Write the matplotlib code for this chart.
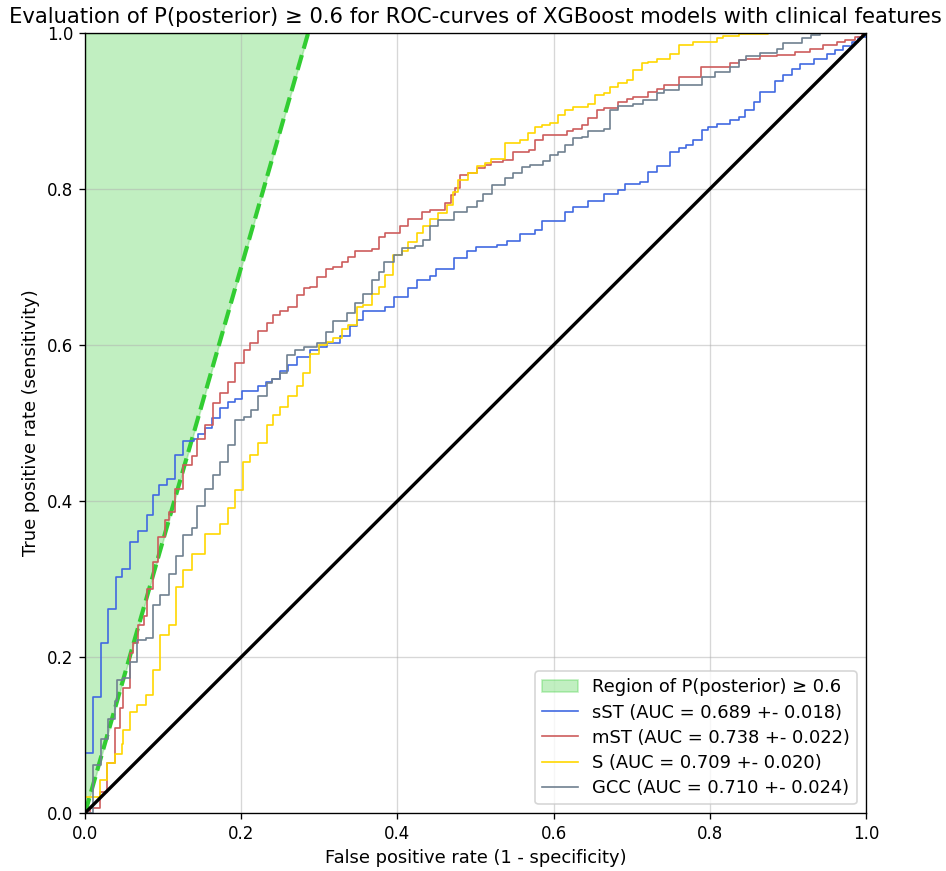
import numpy as np
import matplotlib.pyplot as plt

# ROC vertices (fpr, tpr), plotted as steps
sst_fpr = [0, 0, 0.0098, 0.020, 0.030, 0.039, 0.047, 0.058, 0.068, 0.079, 0.0875, 0.095, 0.105, 0.115, 0.125,
           0.139, 0.145, 0.153, 0.162, 0.173, 0.1835, 0.192, 0.201, 0.222, 0.232, 0.239, 0.250, 0.260, 0.271,
           0.288, 0.299, 0.310, 0.327, 0.339, 0.348, 0.356, 0.384, 0.395, 0.414, 0.425, 0.442, 0.450, 0.472,
           0.489, 0.500, 0.527, 0.540, 0.557, 0.576, 0.585, 0.615, 0.625, 0.644, 0.664, 0.683, 0.691, 0.711,
           0.721, 0.732, 0.749, 0.760, 0.770, 0.779, 0.790, 0.798, 0.809, 0.826, 0.837, 0.845, 0.856, 0.864,
           0.884, 0.894, 0.905, 0.916, 0.933, 0.950, 0.960, 0.971, 0.982, 0.990, 1.0]
sst_tpr = [0, 0.077, 0.149, 0.218, 0.262, 0.303, 0.313, 0.347, 0.362, 0.382, 0.408, 0.421, 0.428, 0.459, 0.477,
           0.479, 0.486, 0.493, 0.506, 0.519, 0.527, 0.531, 0.541, 0.547, 0.552, 0.556, 0.567, 0.575, 0.584,
           0.594, 0.598, 0.602, 0.612, 0.624, 0.632, 0.643, 0.649, 0.662, 0.673, 0.683, 0.688, 0.697, 0.711,
           0.721, 0.726, 0.728, 0.733, 0.742, 0.748, 0.759, 0.771, 0.777, 0.784, 0.794, 0.799, 0.806, 0.809,
           0.822, 0.830, 0.847, 0.852, 0.856, 0.863, 0.876, 0.879, 0.883, 0.889, 0.892, 0.901, 0.912, 0.924,
           0.939, 0.946, 0.954, 0.960, 0.967, 0.973, 0.978, 0.983, 0.989, 0.995, 1.0]

mst_fpr = [0, 0.006, 0.019, 0.0286, 0.038, 0.045, 0.049, 0.057, 0.062, 0.068, 0.075, 0.079, 0.087, 0.094, 0.102,
           0.107, 0.115, 0.126, 0.137, 0.143, 0.154, 0.164, 0.173, 0.1835, 0.192, 0.203, 0.211, 0.222, 0.233,
           0.241, 0.250, 0.260, 0.271, 0.280, 0.288, 0.297, 0.309, 0.318, 0.329, 0.337, 0.346, 0.367, 0.377,
           0.384, 0.403, 0.414, 0.431, 0.442, 0.461, 0.469, 0.474, 0.480, 0.491, 0.502, 0.512, 0.520, 0.535,
           0.548, 0.568, 0.576, 0.587, 0.617, 0.625, 0.636, 0.644, 0.655, 0.664, 0.683, 0.694, 0.702, 0.721,
           0.732, 0.741, 0.760, 0.789, 0.826, 0.837, 0.847, 0.864, 0.886, 0.909, 0.928, 0.945, 0.963, 0.973,
           0.986, 0.995, 1.0]
mst_tpr = [0, 0.006, 0.027, 0.064, 0.109, 0.134, 0.160, 0.205, 0.218, 0.241, 0.252, 0.287, 0.322, 0.354, 0.376,
           0.386, 0.416, 0.446, 0.458, 0.479, 0.497, 0.526, 0.539, 0.553, 0.577, 0.593, 0.602, 0.618, 0.628,
           0.638, 0.644, 0.649, 0.664, 0.673, 0.675, 0.687, 0.697, 0.700, 0.706, 0.713, 0.721, 0.723, 0.739,
           0.744, 0.752, 0.762, 0.770, 0.773, 0.782, 0.792, 0.801, 0.818, 0.821, 0.827, 0.831, 0.835, 0.837,
           0.847, 0.850, 0.863, 0.869, 0.874, 0.877, 0.882, 0.891, 0.901, 0.904, 0.912, 0.915, 0.918, 0.924,
           0.928, 0.933, 0.944, 0.957, 0.961, 0.965, 0.967, 0.970, 0.972, 0.976, 0.980, 0.985, 0.988, 0.991,
           0.995, 1.0, 1.0]

s_fpr = [0, 0, 0.019, 0.028, 0.038, 0.047, 0.049, 0.058, 0.067, 0.078, 0.0875, 0.096, 0.107, 0.117, 0.126,
         0.137, 0.154, 0.173, 0.1835, 0.192, 0.2027, 0.211, 0.222, 0.2326, 0.241, 0.250, 0.260, 0.271, 0.2795,
         0.288, 0.299, 0.3095, 0.318, 0.329, 0.337, 0.348, 0.356, 0.367, 0.377, 0.384, 0.394, 0.4055, 0.414,
         0.4245, 0.433, 0.442, 0.4524, 0.463, 0.4716, 0.478, 0.491, 0.5015, 0.512, 0.520, 0.538, 0.557, 0.5675,
         0.576, 0.585, 0.595, 0.606, 0.615, 0.625, 0.644, 0.653, 0.664, 0.672, 0.683, 0.694, 0.702, 0.713,
         0.721, 0.732, 0.749, 0.760, 0.779, 0.809, 0.817, 0.837, 0.875, 1.0]
s_tpr = [0, 0.021, 0.042, 0.064, 0.076, 0.089, 0.106, 0.130, 0.139, 0.151, 0.183, 0.228, 0.241, 0.290, 0.311,
         0.332, 0.358, 0.371, 0.391, 0.414, 0.450, 0.459, 0.475, 0.497, 0.510, 0.521, 0.534, 0.547, 0.5645,
         0.589, 0.600, 0.604, 0.6085, 0.621, 0.626, 0.649, 0.651, 0.665, 0.675, 0.690, 0.716, 0.721, 0.7325,
         0.743, 0.752, 0.762, 0.769, 0.780, 0.7965, 0.812, 0.8205, 0.829, 0.833, 0.839, 0.859, 0.863, 0.872,
         0.880, 0.882, 0.884, 0.895, 0.901, 0.9055, 0.909, 0.9205, 0.923, 0.931, 0.9355, 0.940, 0.9526, 0.961,
         0.963, 0.967, 0.9725, 0.985, 0.988, 0.993, 0.996, 0.999, 1.0, 1.0]

gcc_fpr = [0, 0.0098, 0.020, 0.030, 0.038, 0.0405, 0.049, 0.058, 0.067, 0.078, 0.0875, 0.096, 0.107, 0.1165,
           0.126, 0.137, 0.143, 0.154, 0.164, 0.173, 0.1835, 0.192, 0.203, 0.212, 0.222, 0.233, 0.240, 0.250,
           0.259, 0.269, 0.280, 0.297, 0.309, 0.318, 0.335, 0.346, 0.356, 0.367, 0.377, 0.383, 0.395, 0.4055,
           0.4225, 0.433, 0.442, 0.452, 0.472, 0.489, 0.5015, 0.510, 0.521, 0.538, 0.548, 0.559, 0.570, 0.587,
           0.595, 0.606, 0.615, 0.625, 0.636, 0.644, 0.664, 0.672, 0.683, 0.702, 0.715, 0.732, 0.741, 0.760,
           0.790, 0.807, 0.826, 0.837, 0.847, 0.864, 0.886, 0.894, 0.918, 0.930, 0.941, 1.0]
gcc_tpr = [0, 0.0615, 0.0945, 0.120, 0.143, 0.1705, 0.173, 0.194, 0.222, 0.224, 0.267, 0.280, 0.307, 0.329,
           0.356, 0.365, 0.393, 0.416, 0.433, 0.450, 0.472, 0.504, 0.508, 0.517, 0.534, 0.551, 0.557, 0.5645,
           0.587, 0.593, 0.598, 0.602, 0.617, 0.631, 0.641, 0.654, 0.666, 0.683, 0.693, 0.707, 0.716, 0.724,
           0.7275, 0.735, 0.752, 0.760, 0.770, 0.777, 0.784, 0.794, 0.805, 0.814, 0.821, 0.828, 0.831, 0.836,
           0.844, 0.848, 0.856, 0.865, 0.867, 0.875, 0.877, 0.901, 0.906, 0.909, 0.914, 0.923, 0.927, 0.933,
           0.944, 0.950, 0.956, 0.965, 0.970, 0.975, 0.980, 0.987, 0.993, 0.997, 1.0, 1.0]

labels = ['sST (AUC = 0.689 +- 0.018)', 'mST (AUC = 0.738 +- 0.022)',
          'S (AUC = 0.709 +- 0.020)', 'GCC (AUC = 0.710 +- 0.024)']
colors = ['royalblue', 'indianred', 'gold', 'slategray']

# posterior threshold line: tpr = slope * fpr
slope = 3.5
x_top = 1 / slope

fig = plt.figure(figsize=(946 / 120, 871 / 120), dpi=120)
ax = fig.add_axes([0.0899, 0.0666, 0.8255, 0.8955])

ax.fill_betweenx([0, 1], 0, [0, x_top], color='limegreen', alpha=0.3,
                 label='Region of P(posterior) \u2265 0.6')
ax.plot([0, x_top], [0, 1], color='limegreen', lw=2.5, ls='--')

curves = [(sst_fpr, sst_tpr), (mst_fpr, mst_tpr), (s_fpr, s_tpr), (gcc_fpr, gcc_tpr)]
for (fpr, tpr), lab, col in zip(curves, labels, colors):
    ax.plot(fpr, tpr, drawstyle='steps-post', color=col, lw=1.0, label=lab)

ax.plot([0, 1], [0, 1], color='black', lw=2)

ax.set_xlim(0, 1)
ax.set_ylim(0, 1)
ax.grid(True, alpha=0.5)
ax.set_xlabel('False positive rate (1 - specificity)', fontsize=10.7)
ax.set_ylabel('True positive rate (sensitivity)', fontsize=10.7)
ax.set_title('Evaluation of P(posterior) \u2265 0.6 for ROC-curves of XGBoost models with clinical features',
             fontsize=12.7)
ax.legend(loc='lower right', fontsize=10.7, labelspacing=0.4)

fig.savefig('out.png', dpi=120)
